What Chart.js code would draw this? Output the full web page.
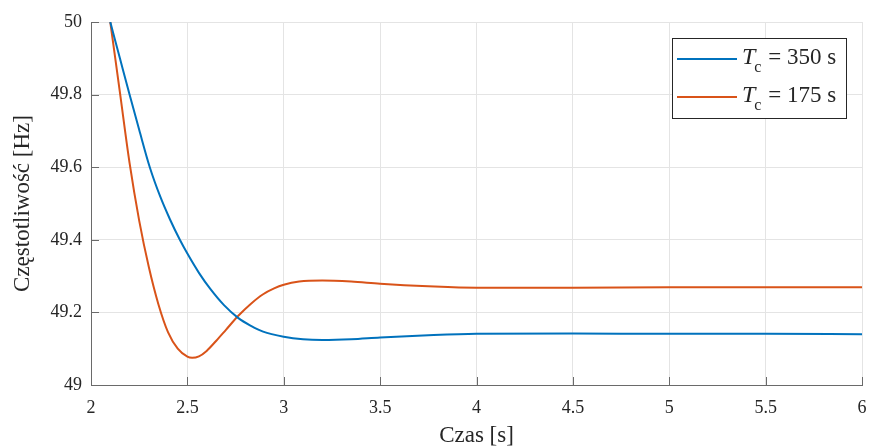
<!DOCTYPE html>
<html><head><meta charset="utf-8">
<script src="https://cdn.jsdelivr.net/npm/chart.js@4/dist/chart.umd.min.js"></script>
<style>html,body{margin:0;padding:0;background:#fff;}#wrap{width:870px;height:446px;position:relative;}</style>
</head><body><div id="wrap"><canvas id="c" width="870" height="446"></canvas></div>
<script>
// ---- data ----
const timeA = [2.1, 2.15, 2.2, 2.25, 2.305, 2.36, 2.41, 2.461, 2.5, 2.56, 2.62, 2.69, 2.763, 2.83, 2.893, 3.0, 3.1, 3.2, 3.35, 3.5, 3.75, 4.0, 4.5, 5.0, 5.5, 6.0];
const freqA = [50, 49.9, 49.8, 49.703, 49.6, 49.518, 49.456, 49.4, 49.362, 49.309, 49.264, 49.22, 49.185, 49.163, 49.147, 49.133, 49.126, 49.124, 49.126, 49.131, 49.137, 49.141, 49.142, 49.141, 49.141, 49.14];
const timeB = [2.1, 2.15, 2.2, 2.25, 2.3, 2.35, 2.4, 2.45, 2.5, 2.525, 2.56, 2.6, 2.65, 2.7, 2.763, 2.83, 2.893, 2.95, 3.0, 3.08, 3.2, 3.35, 3.5, 3.75, 4.0, 4.5, 5.0, 6.0];
const freqB = [50, 49.806, 49.612, 49.453, 49.325, 49.222, 49.145, 49.1, 49.078, 49.075, 49.079, 49.094, 49.122, 49.152, 49.19, 49.224, 49.25, 49.266, 49.276, 49.285, 49.288, 49.285, 49.279, 49.272, 49.268, 49.268, 49.269, 49.269];
const seriesNames = ['T_c = 350 s', 'T_c = 175 s'];
const seriesColors = ['#0072BD', '#D95319'];
const xTickValues = [2, 2.5, 3, 3.5, 4, 4.5, 5, 5.5, 6];
const xTickLabels = ['2', '2.5', '3', '3.5', '4', '4.5', '5', '5.5', '6'];
const yTickValues = [49, 49.2, 49.4, 49.6, 49.8, 50];
const yTickLabels = ['49', '49.2', '49.4', '49.6', '49.8', '50'];
const xAxisTitle = 'Czas [s]';
const yAxisTitle = 'Częstotliwość [Hz]';

const FONT = "'Liberation Serif', 'DejaVu Serif', serif";
const TEXT = '#262626';

function labelFor(values, labels, v) {
  for (let i = 0; i < values.length; i++) if (Math.abs(values[i] - v) < 1e-6) return labels[i];
  return '';
}

const innerTicks = {
  id: 'innerTicks',
  afterDatasetsDraw(chart) {
    const ctx = chart.ctx, a = chart.chartArea, xs = chart.scales.x, ys = chart.scales.y;
    ctx.save();
    ctx.strokeStyle = '#6a6a6a';
    ctx.lineWidth = 1;
    ctx.beginPath();
    xTickValues.forEach(v => { const p = Math.round(xs.getPixelForValue(v)) + 0.5; ctx.moveTo(p, a.bottom); ctx.lineTo(p, a.bottom - 8); });
    yTickValues.forEach(v => { const p = Math.round(ys.getPixelForValue(v)) + 0.5; ctx.moveTo(a.left, p); ctx.lineTo(a.left + 8, p); });
    ctx.stroke();
    ctx.restore();
  }
};

const texLegend = {
  id: 'texLegend',
  afterDraw(chart) {
    const ctx = chart.ctx, a = chart.chartArea;
    const boxW = 174, boxH = 80;
    const boxR = a.right - 16, boxT = a.top + 16;
    const boxL = boxR - boxW;
    ctx.save();
    ctx.fillStyle = '#fff';
    ctx.fillRect(boxL, boxT, boxW, boxH);
    ctx.strokeStyle = '#262626';
    ctx.lineWidth = 1;
    ctx.strokeRect(Math.round(boxL) + 0.5, Math.round(boxT) + 0.5, boxW, boxH);
    chart.data.datasets.forEach((ds, i) => {
      const ly = Math.round(boxT + 21 + i * 38.4);
      ctx.strokeStyle = ds.borderColor;
      ctx.lineWidth = 2;
      ctx.beginPath();
      ctx.moveTo(boxL + 5, ly); ctx.lineTo(boxL + 65, ly);
      ctx.stroke();
      const lbl = ds.label;
      const us = lbl.indexOf('_');
      const main = lbl.slice(0, us), sub = lbl.charAt(us + 1), rest = lbl.slice(us + 2);
      let x = boxL + 70;
      const base = ly + 5;
      ctx.fillStyle = TEXT;
      ctx.textBaseline = 'alphabetic';
      ctx.textAlign = 'left';
      ctx.font = 'italic 24px ' + FONT;
      ctx.fillText(main, x, base);
      x += ctx.measureText(main).width - 1;
      ctx.font = '16px ' + FONT;
      ctx.fillText(sub, x, base + 8);
      x += ctx.measureText(sub).width + 1;
      ctx.font = '23px ' + FONT;
      ctx.fillText(rest, x, base);
    });
    ctx.restore();
  }
};

new Chart(document.getElementById('c'), {
  type: 'line',
  data: {
    datasets: [
      { label: seriesNames[0], data: timeA.map((t, i) => ({ x: t, y: freqA[i] })), borderColor: seriesColors[0], backgroundColor: seriesColors[0] },
      { label: seriesNames[1], data: timeB.map((t, i) => ({ x: t, y: freqB[i] })), borderColor: seriesColors[1], backgroundColor: seriesColors[1] }
    ]
  },
  options: {
    responsive: false,
    animation: false,
    devicePixelRatio: 1,
    layout: { padding: { left: 0, right: 8, top: 22, bottom: 0 } },
    elements: {
      point: { radius: 0, hoverRadius: 0 },
      line: { borderWidth: 2, cubicInterpolationMode: 'monotone', fill: false }
    },
    plugins: { legend: { display: false }, tooltip: { enabled: false } },
    scales: {
      x: {
        type: 'linear', min: 2, max: 6,
        afterBuildTicks: s => { s.ticks = xTickValues.map(v => ({ value: v })); },
        afterFit: s => { s.height = 61; s.paddingLeft = 0; s.paddingRight = 0; },
        ticks: { autoSkip: false, maxRotation: 0, padding: 12, color: TEXT, font: { family: FONT, size: 18 },
                 callback: v => labelFor(xTickValues, xTickLabels, v) },
        grid: { color: '#e4e4e4', drawTicks: false, lineWidth: 1 },
        border: { display: true, color: '#6a6a6a', width: 1 },
        title: { display: true, text: xAxisTitle, color: TEXT, font: { family: FONT, size: 23 }, padding: { top: 0, bottom: -4 } }
      },
      y: {
        type: 'linear', min: 49, max: 50,
        afterBuildTicks: s => { s.ticks = yTickValues.map(v => ({ value: v })); },
        afterFit: s => { s.width = 91; },
        ticks: { autoSkip: false, padding: 9, color: TEXT, font: { family: FONT, size: 18 },
                 callback: v => labelFor(yTickValues, yTickLabels, v) },
        grid: { color: '#e4e4e4', drawTicks: false, lineWidth: 1 },
        border: { display: true, color: '#6a6a6a', width: 1 },
        title: { display: true, text: yAxisTitle, color: TEXT, font: { family: FONT, size: 23 }, padding: { top: 9, bottom: 0 } }
      }
    }
  },
  plugins: [innerTicks, texLegend]
});
</script>
</body></html>
